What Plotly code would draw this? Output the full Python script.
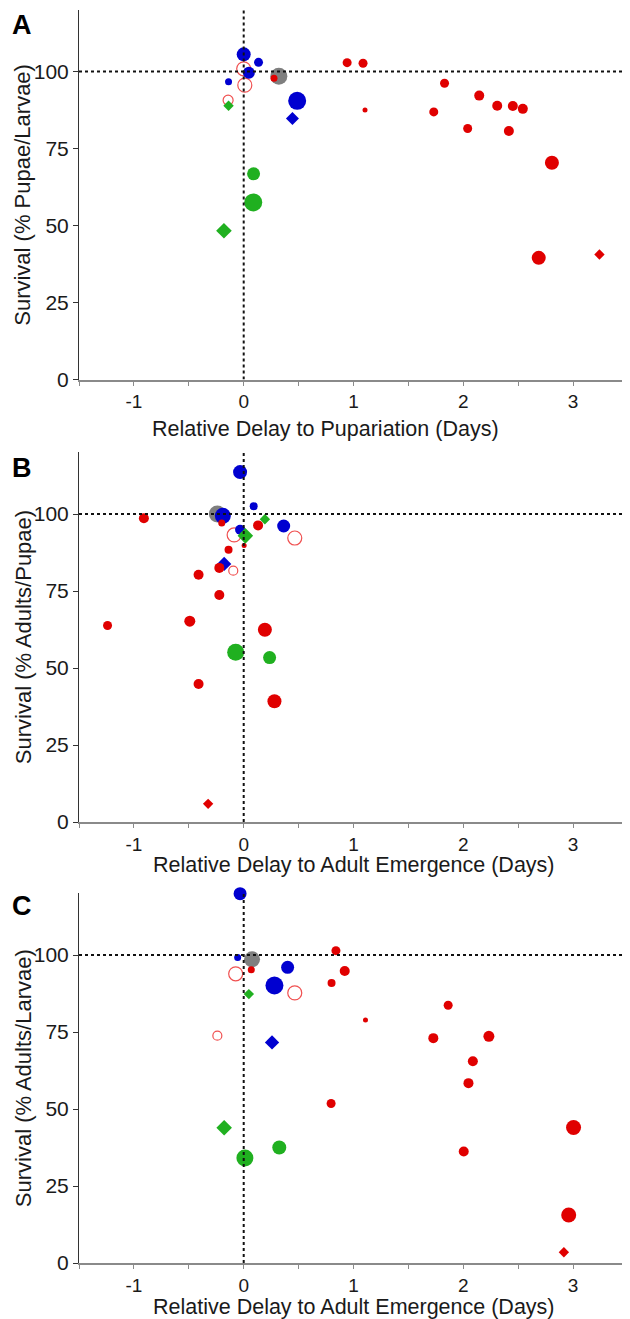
import plotly.graph_objects as go

# ---------------- data ----------------
# Panel A: Relative delay to pupariation vs survival (% pupae/larvae)
a_x = [0.0, 0.135, 0.047, -0.138, 0.487, 0.444, 0.32, 0.0, 0.01, -0.142, 0.276, -0.138,
       0.09, 0.087, -0.18, 2.687, 3.24, 0.942, 1.087, 1.105, 1.829, 1.731, 2.145, 2.04,
       2.309, 2.451, 2.542, 2.415, 2.807]
a_y = [105.6, 103.0, 99.6, 96.7, 90.5, 84.8, 98.5, 100.9, 95.6, 90.7, 97.8, 88.9,
       66.8, 57.5, 48.3, 39.5, 40.6, 102.9, 102.7, 87.5, 96.2, 86.9, 92.2, 81.5,
       88.9, 88.8, 87.9, 80.7, 70.4]
a_size = [14, 9, 12, 7, 18, 10, 17, 14, 14, 10, 7, 8,
          13, 18, 12, 14, 8, 9, 9, 5, 9, 9, 10, 9,
          10, 10, 10, 10, 14]
a_group = ["blue", "blue", "blue", "blue", "blue", "blue_diamond", "grey", "red_open", "red_open",
           "red_open", "red", "green_diamond", "green", "green", "green_diamond", "red",
           "red_diamond", "red", "red", "red", "red", "red", "red", "red",
           "red", "red", "red", "red", "red"]

# Panel B: Relative delay to adult emergence vs survival (% adults/pupae)
b_x = [-0.033, 0.091, -0.24, -0.19, -0.909, -0.2, -0.033, -0.087, 0.015, 0.004, 0.131,
       0.193, 0.364, 0.465, -0.138, -0.178, -0.222, -0.095, -0.411, -0.222, -1.24,
       -0.491, 0.193, -0.073, 0.236, -0.411, 0.28, -0.324]
b_y = [113.6, 102.5, 100.0, 99.4, 98.6, 97.1, 94.9, 93.2, 92.9, 89.8, 96.3,
       98.3, 96.1, 92.2, 88.4, 83.8, 82.5, 81.6, 80.3, 73.7, 63.8,
       65.2, 62.4, 55.1, 53.4, 44.8, 39.2, 5.9]
b_size = [14, 8, 17, 16, 10, 7, 10, 14, 12, 5, 10,
          8, 13, 14, 8, 11, 10, 9, 10, 10, 9,
          11, 14, 17, 13, 10, 14, 8]
b_group = ["blue", "blue", "grey", "blue", "red", "red", "blue", "red_open", "green_diamond",
           "red", "red", "green_diamond", "blue", "red_open", "red", "blue_diamond", "red",
           "red_open", "red", "red", "red", "red", "red", "green", "green", "red", "red",
           "red_diamond"]

# Panel C: Relative delay to adult emergence vs survival (% adults/larvae)
c_x = [-0.033, -0.055, 0.076, 0.069, -0.073, 0.4, 0.28, 0.465, 0.047, 0.84, 0.92, 0.8,
       1.109, 1.862, 1.727, 2.233, 2.087, 2.047, -0.24, 0.258, 0.796, -0.178, 0.011,
       0.324, 2.004, 3.004, 2.96, 2.916]
c_y = [119.9, 99.2, 98.6, 95.2, 93.9, 96.0, 90.1, 87.7, 87.3, 101.4, 94.8, 90.9,
       78.9, 83.7, 73.0, 73.6, 65.5, 58.4, 73.8, 71.6, 51.8, 43.9, 34.1,
       37.5, 36.2, 44.0, 15.6, 3.5]
c_size = [13, 7, 16, 7, 14, 13, 18, 14, 8, 9, 10, 8,
          5, 9, 10, 11, 10, 10, 9, 11, 9, 12, 17,
          14, 10, 15, 15, 8]
c_group = ["blue", "blue", "grey", "red", "red_open", "blue", "blue", "red_open", "green_diamond",
           "red", "red", "red", "red", "red", "red", "red", "red", "red", "red_open",
           "blue_diamond", "red", "green_diamond", "green", "green", "red", "red", "red",
           "red_diamond"]

panel_letters = ["A", "B", "C"]
x_titles = ["Relative Delay to Pupariation (Days)",
            "Relative Delay to Adult Emergence (Days)",
            "Relative Delay to Adult Emergence (Days)"]
y_titles = ["Survival (% Pupae/Larvae)",
            "Survival (% Adults/Pupae)",
            "Survival (% Adults/Larvae)"]
x_tick_vals = [-1.5, -1, -0.5, 0, 0.5, 1, 1.5, 2, 2.5, 3, 3.5]
x_tick_text = ["", "-1", "", "0", "", "1", "", "2", "", "3", ""]
y_tick_vals = [0, 25, 50, 75, 100]

# ---------------- styling ----------------
RED = "#e00000"
BLUE = "#0000d0"
GREEN = "#20b020"
GREY = "#7f7f7f"
OPEN_RED = "#f05050"
styles = {
    "red_open": dict(symbol="circle-open", color=OPEN_RED, line=dict(width=1.2, color=OPEN_RED)),
    "grey": dict(symbol="circle", color=GREY, line=dict(width=0)),
    "blue": dict(symbol="circle", color=BLUE, line=dict(width=0)),
    "blue_diamond": dict(symbol="diamond", color=BLUE, line=dict(width=0)),
    "green": dict(symbol="circle", color=GREEN, line=dict(width=0)),
    "green_diamond": dict(symbol="diamond", color=GREEN, line=dict(width=0)),
    "red": dict(symbol="circle", color=RED, line=dict(width=0)),
    "red_diamond": dict(symbol="diamond", color=RED, line=dict(width=0)),
}
draw_order = ["red_open", "grey", "blue", "blue_diamond", "green", "green_diamond", "red", "red_diamond"]

# the page body adds an 8 px margin; positions below are page pixels, converted to figure pixels
OFF = 8
W, H = 630 - OFF, 1319 - OFF
x_left, x_right = 79 - OFF, 628 - OFF
panel_px = [(10 - OFF, 379.5 - OFF), (452.4 - OFF, 822 - OFF), (893.4 - OFF, 1263 - OFF)]
letter_top = [7 - OFF, 451 - OFF, 889 - OFF]
x_title_pos = [(325 - OFF, 429 - OFF), (354 - OFF, 865 - OFF), (354 - OFF, 1307 - OFF)]
y_title_x = 23 - OFF

FONT = "Liberation Sans, Arial, sans-serif"
TXT = "#1a1a1a"
fig = go.Figure()

panels = [(a_x, a_y, a_size, a_group), (b_x, b_y, b_size, b_group), (c_x, c_y, c_size, c_group)]
for i, (xs, ys, ss, gs) in enumerate(panels):
    xa = "x" if i == 0 else f"x{i+1}"
    ya = "y" if i == 0 else f"y{i+1}"
    for g in draw_order:
        idx = [k for k, gg in enumerate(gs) if gg == g]
        if not idx:
            continue
        st = styles[g]
        fig.add_trace(go.Scatter(
            x=[xs[k] for k in idx], y=[ys[k] for k in idx], mode="markers",
            marker=dict(symbol=st["symbol"], color=st["color"], size=[ss[k] for k in idx],
                        line=st["line"], opacity=1),
            xaxis=xa, yaxis=ya, showlegend=False, cliponaxis=False, hoverinfo="x+y"))
    # dotted reference lines
    fig.add_shape(type="line", x0=-1.5, x1=3.5, y0=100, y1=100, xref=xa, yref=ya,
                  line=dict(color="#111111", width=2, dash="dot"), layer="above")
    fig.add_shape(type="line", x0=0, x1=0, y0=0, y1=120, xref=xa, yref=ya,
                  line=dict(color="#111111", width=2, dash="dot"), layer="above")

    top, base = panel_px[i]
    dom_y = [1 - base / H, 1 - top / H]
    xkey = "xaxis" if i == 0 else f"xaxis{i+1}"
    ykey = "yaxis" if i == 0 else f"yaxis{i+1}"
    fig.update_layout(**{
        xkey: dict(domain=[x_left / W, x_right / W], range=[-1.5, 3.5], automargin=False,
                   anchor=ya, tickmode="array", tickvals=x_tick_vals, ticktext=x_tick_text,
                   showgrid=False, zeroline=False, showline=True, ticks="outside",
                   tickfont=dict(family=FONT, size=19, color=TXT),
                   linecolor="#8a8a8a", linewidth=2, tickcolor="#8a8a8a", ticklen=4),
        ykey: dict(domain=dom_y, range=[0, 120], anchor=xa, automargin=False,
                   tickmode="array", tickvals=y_tick_vals,
                   showgrid=False, zeroline=False, showline=True, ticks="outside",
                   tickfont=dict(family=FONT, size=21, color=TXT),
                   linecolor="#333333", linewidth=1, tickcolor="#333333", ticklen=5),
    })
    # axis titles
    fig.add_annotation(text=x_titles[i], xref="paper", yref="paper",
                       x=x_title_pos[i][0] / W, y=1 - x_title_pos[i][1] / H,
                       xanchor="center", yanchor="middle", showarrow=False,
                       font=dict(family=FONT, size=21.5, color=TXT))
    fig.add_annotation(text=y_titles[i], xref="paper", yref="paper", textangle=-90,
                       x=y_title_x / W, y=1 - (top + base) / 2 / H,
                       xanchor="center", yanchor="middle", showarrow=False,
                       font=dict(family=FONT, size=22, color=TXT))
    # panel letter
    fig.add_annotation(text=f"<b>{panel_letters[i]}</b>", xref="paper", yref="paper",
                       x=2 / W, y=1 - max(letter_top[i], 0) / H, xanchor="left", yanchor="top",
                       showarrow=False, font=dict(family=FONT, size=27, color="#000000"))

fig.update_layout(width=W, height=H, margin=dict(l=0, r=0, t=0, b=0),
                  plot_bgcolor="white", paper_bgcolor="white")
fig.write_html("out.html")
